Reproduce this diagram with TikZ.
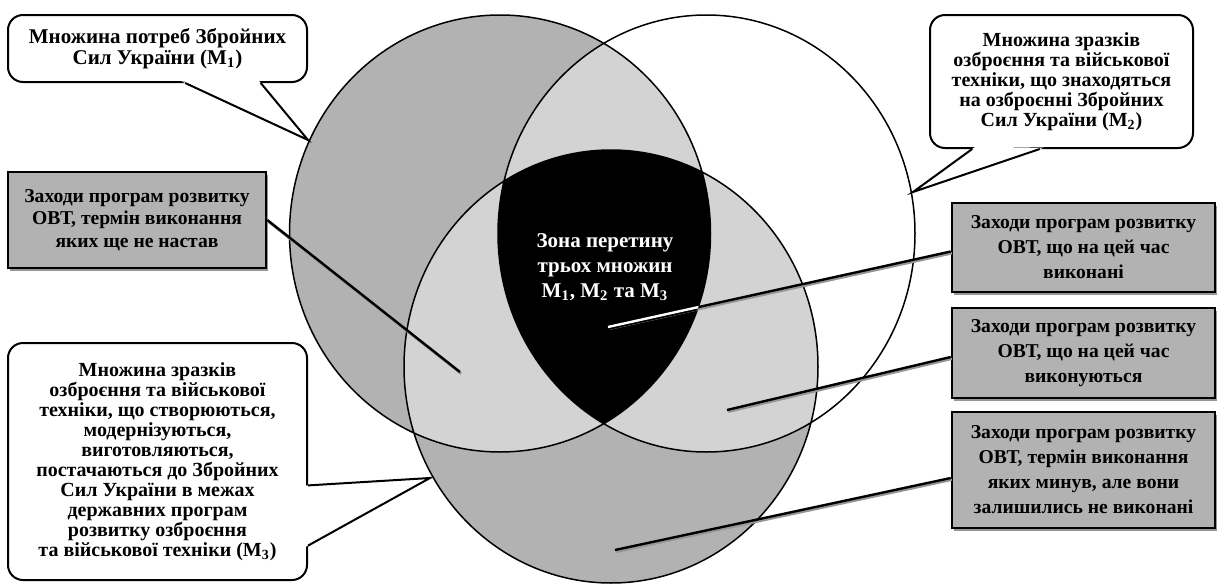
\documentclass[tikz,border=0pt]{standalone}
\usepackage{fontspec}
\setmainfont{Liberation Serif}
\usetikzlibrary{calc,shadows}
\definecolor{MidGray}{RGB}{178,178,178}
\definecolor{LightGray}{RGB}{211,211,211}
\definecolor{ShadowGray}{RGB}{150,150,150}
% the three sets
\def\setone{(500,233.5) ellipse [x radius=105.25pt, y radius=109.25pt]}
\def\settwo{(706.5,233.5) ellipse [x radius=104.25pt, y radius=109.25pt]}
\def\setthree{(611,366.5) ellipse [x radius=103.5pt, y radius=108.25pt]}

\begin{document}
\begin{tikzpicture}[x=0.5pt,y=-0.5pt,
	note/.style={draw, line width=1pt, rounded corners=7.5pt, fill=white, align=center, inner sep=2pt,
		font=\bfseries\fontsize{10}{10}\selectfont},
	task/.style={draw, line width=1.3pt, fill=MidGray, align=center, minimum width=131.5pt,
		font=\bfseries\fontsize{9.8}{12.5}\selectfont,
		drop shadow={shadow xshift=0.8pt, shadow yshift=-1.6pt, fill=ShadowGray, opacity=1}},
	lead/.style={line width=1.2pt, preaction={draw, ShadowGray, line width=1.2pt, transform canvas={xshift=0.6pt, yshift=-0.9pt}}},
	pointer/.style={line width=1pt}]
	\useasboundingbox (0,0) rectangle (1217,584);

	% venn diagram
	\fill[MidGray] \setone;
	\fill[MidGray] \setthree;
	\begin{scope}
		\clip \setone;
		\fill[LightGray] \settwo;
		\fill[LightGray] \setthree;
	\end{scope}
	\begin{scope}
		\clip \settwo;
		\fill[LightGray] \setthree;
	\end{scope}
	\begin{scope}
		\clip \setone;
		\clip \settwo;
		\fill[black] \setthree;
	\end{scope}
	\draw[line width=0.75pt] \setone \settwo \setthree;

	\node[font=\bfseries\fontsize{10.5}{12.5}\selectfont, text=white, align=center] (core) at (605,267)
		{Зона перетину\\трьох множин\\M\textsubscript{1}, M\textsubscript{2} та M\textsubscript{3}};

	% callouts
	\node[note, minimum width=149.5pt, minimum height=33.5pt, font=\bfseries\fontsize{10.5}{10.5}\selectfont] (m1note) at (157.5,48.5)
		{Множина потреб Збройних\\Сил України (M\textsubscript{1})};
	\node[note, minimum width=131.5pt, minimum height=66.5pt] (m2note) at (1061.5,81.5)
		{Множина зразків\\озброєння та військової\\техніки, що знаходяться\\на озброєнні Збройних\\Сил України (M\textsubscript{2})};
	\node[note, minimum width=149.5pt, minimum height=118.5pt] (m3note) at (157.5,461.5)
		{Множина зразків\\озброєння та військової\\техніки, що створюються,\\модернізуються,\\виготовляються,\\постачаються до Збройних\\Сил України в межах\\державних програм\\розвитку озброєння\\та військової техніки (M\textsubscript{3})};

	\coordinate (m1tip) at (308,140);
	\coordinate (m1a) at ($(m1note.south west)!0.592!(m1note.south east)$);
	\coordinate (m1b) at ($(m1note.south west)!0.843!(m1note.south east)$);
	\fill[white] ($(m1a)!-2pt!(m1tip)$) -- (m1tip) -- ($(m1b)!-2pt!(m1tip)$) -- cycle;
	\draw[pointer] (m1a) -- (m1tip) -- (m1b);

	\coordinate (m2tip) at (913,192);
	\coordinate (m2a) at ($(m2note.south west)!0.163!(m2note.south east)$);
	\coordinate (m2b) at ($(m2note.south west)!0.418!(m2note.south east)$);
	\fill[white] ($(m2a)!-2pt!(m2tip)$) -- (m2tip) -- ($(m2b)!-2pt!(m2tip)$) -- cycle;
	\draw[pointer] (m2a) -- (m2tip) -- (m2b);

	\coordinate (m3tip) at (430,478);
	\coordinate (m3a) at ($(m3note.north east)!0.6!(m3note.south east)$);
	\coordinate (m3b) at ($(m3note.north east)!0.852!(m3note.south east)$);
	\fill[white] ($(m3a)!-2pt!(m3tip)$) -- (m3tip) -- ($(m3b)!-2pt!(m3tip)$) -- cycle;
	\draw[pointer] (m3a) -- (m3tip) -- (m3b);

	% program measures
	\node[task, minimum width=129pt, minimum height=48pt, font=\bfseries\fontsize{9.8}{11.25}\selectfont] (taskA) at (137,220)
		{Заходи програм розвитку\\ОВТ, термін виконання\\яких ще не настав};
	\node[task, minimum height=44.5pt] (taskB) at (1083.5,247.5)
		{Заходи програм розвитку\\ОВТ, що на цей час\\виконані};
	\node[task, minimum height=45pt] (taskC) at (1083.5,353)
		{Заходи програм розвитку\\ОВТ, що на цей час\\виконуються};
	\node[task, minimum height=58pt] (taskD) at (1083.5,470)
		{Заходи програм розвитку\\ОВТ, термін виконання\\яких минув, але вони\\залишились не виконані};

	\coordinate (endA) at (460,372);
	\coordinate (endB) at (608,327);
	\coordinate (endC) at (727,410);
	\coordinate (endD) at (615,550);

	\draw[lead] (taskA.east) -- (endA);
	\draw[lead] ([yshift=-2pt]taskB.west) -- (endB);
	\draw[lead] ([yshift=-2pt]taskC.west) -- (endC);
	\draw[lead] ([yshift=-4pt]taskD.west) -- (endD);
	\begin{scope}
		\clip \setone;
		\clip \settwo;
		\clip \setthree;
		\draw[line width=3pt, black] ([yshift=-2pt]taskB.west) -- (endB);
		\draw[line width=1.2pt, white] ([yshift=-2pt]taskB.west) -- (endB);
	\end{scope}
\end{tikzpicture}
\end{document}
